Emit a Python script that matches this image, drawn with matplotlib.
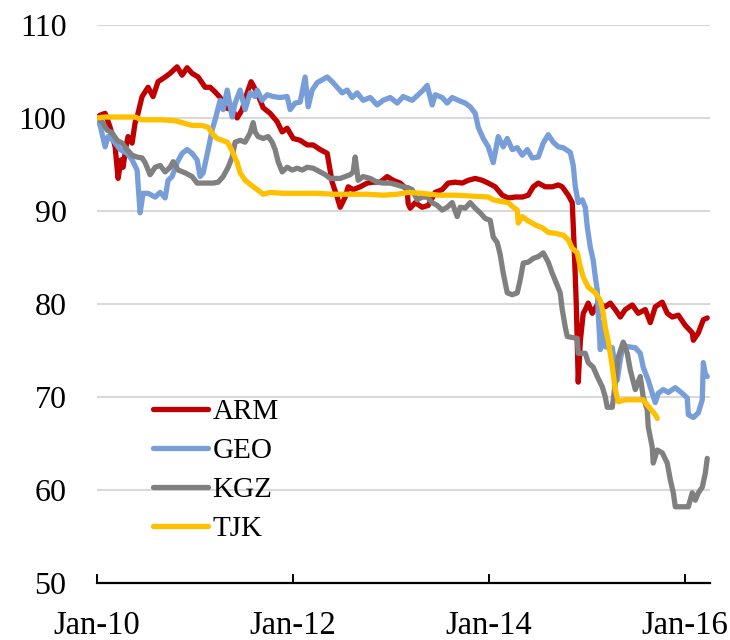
import matplotlib
matplotlib.use("Agg")
import matplotlib.pyplot as plt

# x values are years since Jan-2010
arm_t = [0.000, 0.031, 0.082, 0.133, 0.184, 0.214, 0.245, 0.265, 0.296, 0.316,
         0.357, 0.388, 0.408, 0.459, 0.520, 0.571, 0.622, 0.694, 0.745, 0.816,
         0.867, 0.918, 0.969, 1.031, 1.102, 1.153, 1.204, 1.255, 1.306, 1.378,
         1.429, 1.480, 1.531, 1.571, 1.633, 1.694, 1.765, 1.837, 1.888, 1.939,
         2.000, 2.071, 2.143, 2.204, 2.276, 2.347, 2.398, 2.449, 2.480, 2.531,
         2.561, 2.612, 2.684, 2.755, 2.816, 2.888, 2.959, 3.020, 3.092, 3.163,
         3.173, 3.194, 3.245, 3.316, 3.378, 3.449, 3.520, 3.582, 3.653, 3.724,
         3.786, 3.857, 3.929, 3.990, 4.061, 4.133, 4.194, 4.265, 4.337, 4.398,
         4.449, 4.500, 4.571, 4.643, 4.704, 4.745, 4.806, 4.847, 4.867, 4.888,
         4.908, 4.929, 4.959, 4.980, 5.010, 5.051, 5.112, 5.184, 5.235, 5.286,
         5.337, 5.388, 5.459, 5.520, 5.592, 5.643, 5.694, 5.765, 5.816, 5.867,
         5.929, 6.000, 6.071, 6.082, 6.133, 6.184, 6.224]
arm_v = [100.0, 100.3, 100.5, 99.0, 96.9, 93.5, 95.5, 94.7, 97.0, 98.0,
         97.3, 99.5, 100.1, 102.3, 103.3, 102.3, 103.9, 104.4, 104.8, 105.5,
         104.6, 105.4, 104.8, 104.4, 103.3, 103.3, 102.8, 102.2, 101.1, 100.9,
         100.0, 100.9, 102.7, 103.9, 102.7, 101.1, 100.5, 99.6, 98.5, 98.9,
         97.8, 97.6, 97.1, 97.1, 96.6, 96.2, 93.1, 91.5, 90.4, 91.5,
         92.6, 92.3, 92.6, 93.0, 93.1, 93.1, 93.7, 93.3, 93.0, 92.3,
         90.8, 90.3, 90.9, 90.4, 90.6, 92.0, 92.3, 93.0, 93.1, 93.0,
         93.3, 93.5, 93.3, 93.0, 92.6, 91.7, 91.4, 91.5, 91.5, 91.7,
         92.6, 93.0, 92.6, 92.6, 92.8, 92.6, 91.7, 90.9, 86.0, 80.0,
         71.6, 76.0, 79.0, 79.4, 80.1, 79.0, 80.1, 79.7, 80.1, 79.4,
         78.6, 79.4, 79.9, 79.0, 79.4, 78.0, 79.7, 80.2, 79.0, 78.6,
         78.8, 77.7, 76.9, 76.1, 76.9, 78.3, 78.5]

geo_t = [0.000, 0.031, 0.082, 0.112, 0.163, 0.235, 0.306, 0.357, 0.408, 0.439,
         0.469, 0.520, 0.592, 0.643, 0.694, 0.724, 0.765, 0.816, 0.867, 0.918,
         0.969, 1.020, 1.051, 1.082, 1.133, 1.173, 1.204, 1.255, 1.286, 1.327,
         1.378, 1.408, 1.459, 1.510, 1.561, 1.612, 1.633, 1.684, 1.735, 1.796,
         1.867, 1.939, 1.969, 2.020, 2.071, 2.122, 2.153, 2.194, 2.245, 2.296,
         2.347, 2.398, 2.449, 2.500, 2.551, 2.602, 2.653, 2.714, 2.786, 2.857,
         2.918, 2.990, 3.061, 3.122, 3.214, 3.276, 3.327, 3.367, 3.418, 3.449,
         3.520, 3.571, 3.622, 3.684, 3.755, 3.806, 3.857, 3.888, 3.939, 3.990,
         4.041, 4.092, 4.143, 4.184, 4.235, 4.286, 4.337, 4.388, 4.439, 4.500,
         4.551, 4.602, 4.653, 4.704, 4.755, 4.827, 4.857, 4.878, 4.908, 4.949,
         4.980, 5.000, 5.031, 5.061, 5.082, 5.102, 5.112, 5.133, 5.153, 5.184,
         5.255, 5.306, 5.337, 5.367, 5.418, 5.490, 5.541, 5.571, 5.622, 5.663,
         5.694, 5.724, 5.776, 5.827, 5.898, 5.969, 6.020, 6.031, 6.082, 6.133,
         6.173, 6.184, 6.204, 6.224]
geo_v = [99.8, 99.2, 96.9, 98.0, 97.6, 96.6, 96.2, 95.5, 94.4, 89.8,
         91.9, 91.9, 91.5, 92.0, 91.4, 93.3, 93.7, 95.2, 96.2, 96.6,
         96.2, 95.5, 93.7, 94.1, 96.6, 98.7, 99.8, 101.9, 100.9, 103.0,
         100.1, 101.6, 103.0, 100.9, 102.7, 102.3, 103.0, 101.9, 102.5, 102.3,
         102.2, 102.3, 100.9, 101.6, 101.7, 104.4, 101.2, 103.0, 103.8, 104.1,
         104.4, 103.9, 103.3, 102.7, 103.0, 102.2, 102.7, 101.9, 102.2, 101.4,
         101.9, 102.2, 101.6, 102.3, 101.9, 102.5, 103.0, 103.5, 101.4, 102.5,
         102.2, 101.6, 102.2, 101.9, 101.6, 101.2, 100.5, 99.0, 97.8, 96.9,
         95.2, 98.0, 96.9, 97.8, 96.6, 96.8, 96.0, 96.6, 95.7, 95.8,
         97.3, 98.2, 97.4, 96.9, 96.8, 96.3, 94.9, 92.6, 90.9, 91.2,
         90.4, 88.3, 86.1, 84.7, 82.9, 81.5, 79.0, 75.1, 78.0, 75.4,
         75.3, 71.8, 74.0, 75.6, 75.4, 75.3, 74.7, 73.2, 71.8, 70.4,
         69.4, 70.4, 70.8, 70.5, 71.0, 70.4, 69.9, 68.1, 67.8, 68.3,
         69.7, 73.7, 72.5, 72.2]

kgz_t = [0.000, 0.051, 0.102, 0.153, 0.204, 0.255, 0.306, 0.357, 0.408, 0.459,
         0.490, 0.541, 0.592, 0.643, 0.694, 0.745, 0.776, 0.827, 0.898, 0.969,
         1.020, 1.071, 1.133, 1.184, 1.235, 1.286, 1.337, 1.378, 1.408, 1.459,
         1.510, 1.561, 1.592, 1.612, 1.643, 1.694, 1.745, 1.786, 1.816, 1.847,
         1.888, 1.939, 1.990, 2.041, 2.092, 2.143, 2.204, 2.276, 2.327, 2.378,
         2.480, 2.582, 2.612, 2.633, 2.663, 2.714, 2.786, 2.857, 2.918, 2.990,
         3.061, 3.122, 3.173, 3.214, 3.265, 3.316, 3.367, 3.418, 3.469, 3.520,
         3.571, 3.622, 3.673, 3.704, 3.755, 3.806, 3.857, 3.908, 3.959, 4.010,
         4.041, 4.082, 4.112, 4.143, 4.184, 4.235, 4.286, 4.316, 4.347, 4.398,
         4.449, 4.500, 4.551, 4.602, 4.643, 4.694, 4.724, 4.745, 4.776, 4.796,
         4.898, 4.908, 4.980, 5.010, 5.061, 5.102, 5.153, 5.184, 5.204, 5.255,
         5.286, 5.316, 5.367, 5.408, 5.439, 5.490, 5.541, 5.571, 5.612, 5.622,
         5.663, 5.673, 5.714, 5.765, 5.816, 5.847, 5.878, 5.898, 5.969, 6.031,
         6.071, 6.102, 6.133, 6.173, 6.204, 6.224]
kgz_v = [100.0, 99.6, 98.7, 98.4, 97.6, 97.3, 96.6, 96.0, 95.8, 95.7,
         95.2, 93.9, 94.7, 94.9, 94.2, 94.7, 95.3, 94.4, 94.1, 93.7,
         93.0, 93.0, 93.0, 93.0, 93.1, 93.7, 94.7, 95.8, 97.4, 97.6,
         97.4, 98.4, 99.5, 98.5, 98.0, 97.8, 98.0, 97.4, 96.6, 95.3,
         94.2, 94.7, 94.4, 94.6, 94.4, 94.7, 94.6, 94.2, 93.9, 93.5,
         93.5, 93.9, 94.2, 95.8, 93.3, 93.7, 93.5, 93.1, 93.0, 93.0,
         92.8, 92.6, 92.5, 92.3, 91.2, 91.5, 91.5, 90.9, 90.6, 90.1,
         90.4, 90.9, 89.4, 90.4, 90.3, 90.9, 90.3, 89.8, 89.2, 89.0,
         87.2, 86.6, 85.3, 83.3, 81.2, 81.0, 81.2, 82.6, 84.4, 84.5,
         84.9, 85.1, 85.5, 84.5, 83.3, 82.0, 81.2, 79.4, 77.5, 76.5,
         76.3, 74.7, 74.7, 73.7, 73.2, 72.2, 71.1, 70.0, 68.9, 68.9,
         71.5, 74.3, 75.9, 74.7, 72.9, 70.8, 72.2, 70.0, 68.6, 66.8,
         64.6, 62.9, 64.3, 64.0, 62.9, 61.1, 59.7, 58.2, 58.2, 58.2,
         59.7, 58.9, 59.7, 60.3, 61.8, 63.4]

tjk_t = [0.000, 0.082, 0.184, 0.286, 0.388, 0.459, 0.561, 0.663, 0.796, 0.867,
         0.969, 1.071, 1.133, 1.184, 1.224, 1.276, 1.327, 1.357, 1.388, 1.429,
         1.459, 1.510, 1.582, 1.633, 1.694, 1.765, 1.898, 2.071, 2.245, 2.408,
         2.582, 2.755, 2.918, 3.061, 3.173, 3.316, 3.480, 3.653, 3.827, 3.990,
         4.041, 4.133, 4.194, 4.245, 4.286, 4.296, 4.337, 4.388, 4.469, 4.541,
         4.602, 4.673, 4.755, 4.806, 4.847, 4.898, 4.929, 4.959, 5.010, 5.082,
         5.133, 5.163, 5.184, 5.214, 5.255, 5.286, 5.316, 5.388, 5.490, 5.571,
         5.622, 5.694, 5.714]
tjk_v = [100.0, 100.1, 100.1, 100.1, 100.1, 99.8, 99.8, 99.8, 99.7, 99.5,
         99.2, 99.2, 99.0, 98.2, 97.8, 97.6, 97.4, 96.9, 96.2, 95.2,
         94.1, 93.3, 92.7, 92.3, 91.8, 92.0, 91.9, 91.9, 91.9, 91.8,
         91.8, 91.8, 91.7, 91.8, 92.0, 91.9, 91.7, 91.7, 91.6, 91.5,
         91.2, 91.0, 90.9, 90.4, 90.1, 88.7, 89.4, 89.0, 88.5, 88.2,
         87.7, 87.6, 87.4, 86.9, 86.0, 85.5, 84.0, 82.9, 81.8, 81.2,
         80.4, 79.0, 77.5, 76.0, 73.3, 70.8, 69.5, 69.7, 69.7, 69.7,
         69.0, 68.1, 67.7]

series = [
    ("ARM", arm_t, arm_v, "#c00000"),
    ("GEO", geo_t, geo_v, "#779ed8"),
    ("KGZ", kgz_t, kgz_v, "#808080"),
    ("TJK", tjk_t, tjk_v, "#ffc000"),
]

tick_pos = [0, 2, 4, 6]
tick_labels = ["Jan-10", "Jan-12", "Jan-14", "Jan-16"]
y_ticks = [50, 60, 70, 80, 90, 100, 110]

plt.rcParams["font.family"] = ["Liberation Serif", "DejaVu Serif"]

fig = plt.figure(figsize=(7.3, 6.4), dpi=100)
ax = fig.add_axes([0.133, 0.089, 0.840, 0.872])

for name, t, v, color in series:
    ax.plot(t, v, color=color, linewidth=3.8, label=name,
            solid_joinstyle="round", solid_capstyle="round")

ax.set_xlim(0, 6.255)
ax.set_ylim(50, 110)
ax.set_yticks(y_ticks)
ax.set_xticks(tick_pos)
ax.set_xticklabels(tick_labels)

# только горизонтальная сетка
ax.yaxis.grid(True, color="#d9d9d9", linewidth=1.5)
ax.set_axisbelow(True)

for side in ["left", "right", "top"]:
    ax.spines[side].set_visible(False)
ax.spines["bottom"].set_linewidth(1.6)
ax.spines["bottom"].set_color("black")

ax.tick_params(axis="x", direction="in", length=6.5, width=1.4,
               labelsize=23.5, pad=20)
ax.tick_params(axis="y", length=0, labelsize=23, pad=22)

ax.legend(loc="upper left", bbox_to_anchor=(0.067, 0.356), frameon=False,
          fontsize=21, handlelength=1.9, handletextpad=0.15,
          labelspacing=0.43, borderpad=0)

fig.savefig("out.png", dpi=100)
